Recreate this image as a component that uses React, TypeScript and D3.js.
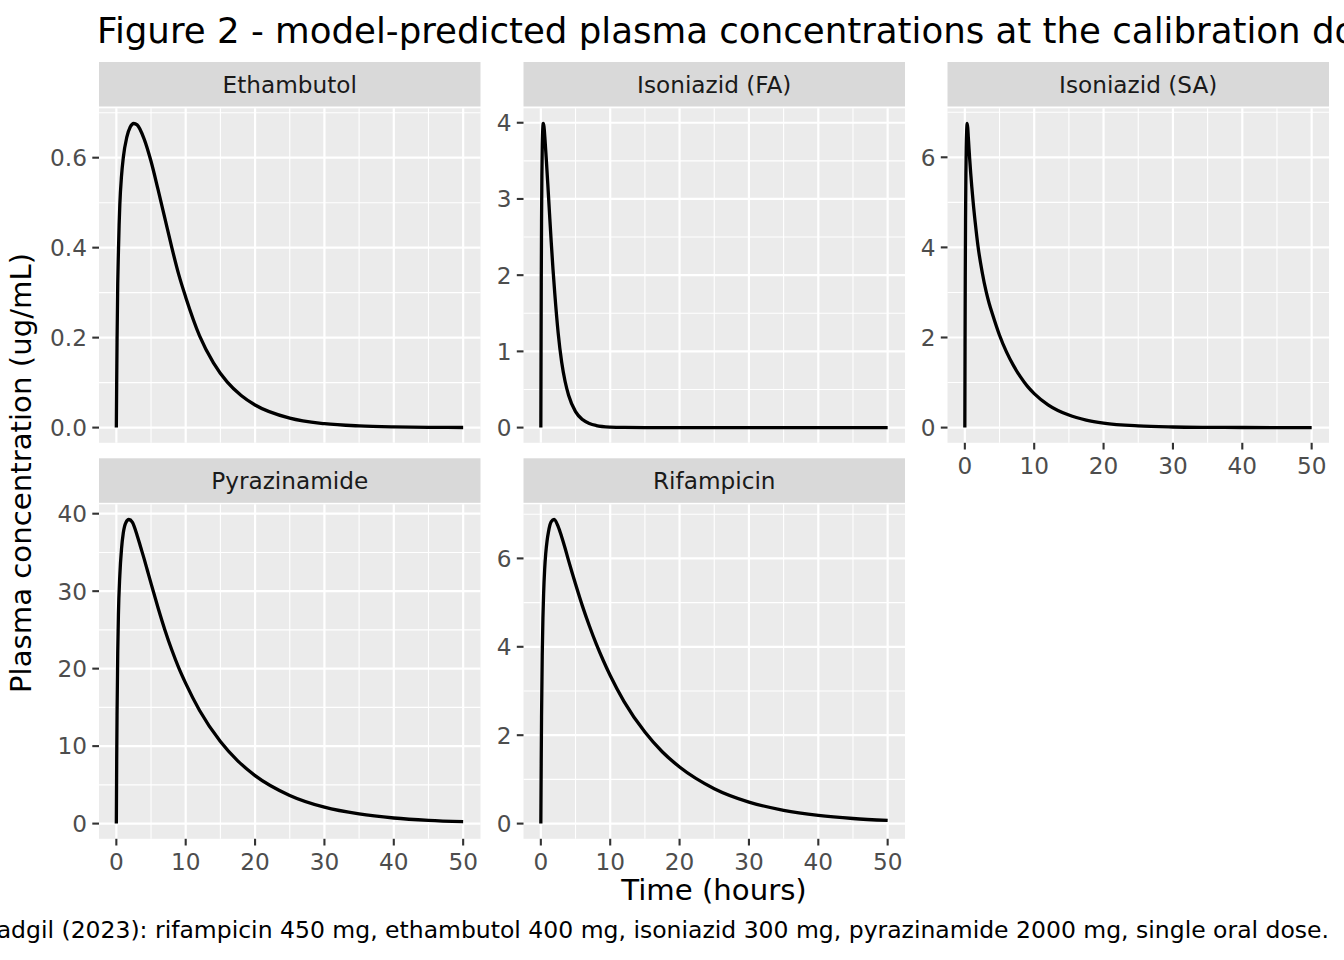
import React from "react";
import * as d3 from "d3";

// values (time in hours, concentration in ug/mL)
const drugNames = ["Ethambutol", "Isoniazid (FA)", "Isoniazid (SA)", "Pyrazinamide", "Rifampicin"];

const ethambutolTime = [0, 0.05, 0.1, 0.2, 0.3, 0.4, 0.5, 0.75, 1, 1.5, 2, 2.5, 3, 4, 5, 6, 7, 8, 9, 10, 12, 14, 16, 18, 20, 25, 30, 35, 40, 45, 50];
const ethambutolConc = [0, 0.1, 0.19, 0.32, 0.39, 0.45, 0.495, 0.56, 0.6, 0.645, 0.668, 0.676, 0.673, 0.642, 0.592, 0.53, 0.465, 0.4, 0.34, 0.29, 0.204, 0.144, 0.101, 0.0714, 0.0503, 0.021, 0.0088, 0.0037, 0.0015, 0.0006, 0.00026];

const isoFaTime = [0, 0.03, 0.06, 0.1, 0.15, 0.2, 0.27, 0.35, 0.45, 0.6, 0.8, 1, 1.25, 1.5, 1.75, 2, 2.5, 3, 3.5, 4, 5, 6, 7, 8, 10, 12, 15, 20, 30, 40, 50];
const isoFaConc = [0, 1.0, 1.9, 2.7, 3.3, 3.65, 3.9, 3.99, 3.95, 3.78, 3.5, 3.2, 2.81, 2.43, 2.08, 1.77, 1.24, 0.86, 0.605, 0.425, 0.21, 0.105, 0.053, 0.027, 0.007, 0.0018, 0.0002, 0, 0, 0, 0];

const isoSaTime = [0, 0.03, 0.06, 0.1, 0.15, 0.2, 0.27, 0.34, 0.42, 0.5, 0.6, 0.7, 0.85, 1, 1.2, 1.5, 1.92, 2.5, 3.1, 3.5, 4, 5, 6, 7, 8, 9, 10, 12, 15, 17.5, 20, 25, 30, 35, 40, 45, 50];
const isoSaConc = [0, 1.8, 3.3, 4.6, 5.6, 6.2, 6.6, 6.75, 6.65, 6.45, 6.2, 5.96, 5.64, 5.35, 5.0, 4.55, 4.0, 3.45, 3.0, 2.76, 2.51, 2.05, 1.68, 1.38, 1.13, 0.92, 0.755, 0.506, 0.278, 0.168, 0.1, 0.037, 0.0135, 0.005, 0.0018, 0.0007, 0.00025];

const pyrazinamideTime = [0, 0.05, 0.1, 0.2, 0.3, 0.5, 0.75, 1, 1.4, 1.8, 2.3, 3, 3.5, 4, 4.5, 5, 6, 7, 8, 9, 10, 12, 15, 17.5, 20, 25, 30, 35, 40, 45, 50];
const pyrazinamideConc = [0, 8, 14, 22, 27, 32, 35.5, 37.5, 38.9, 39.25, 38.9, 37.2, 35.7, 34.2, 32.6, 31.0, 27.9, 25.0, 22.4, 20.1, 18.1, 14.6, 10.6, 8.1, 6.2, 3.64, 2.12, 1.24, 0.72, 0.42, 0.25];

const rifampicinTime = [0, 0.05, 0.1, 0.2, 0.3, 0.4, 0.55, 0.7, 0.9, 1.1, 1.3, 1.5, 1.92, 2.5, 3, 3.5, 4, 4.5, 5, 6, 7, 8, 9, 10, 12, 15, 17.5, 20, 25, 30, 35, 40, 45, 50];
const rifampicinConc = [0, 1.3, 2.4, 3.8, 4.65, 5.2, 5.75, 6.1, 6.4, 6.6, 6.75, 6.83, 6.88, 6.72, 6.49, 6.23, 5.95, 5.68, 5.42, 4.92, 4.47, 4.06, 3.69, 3.35, 2.76, 2.07, 1.625, 1.28, 0.79, 0.487, 0.301, 0.186, 0.115, 0.071];

// y tick labels per panel
const ethambutolTicks = [0, 0.2, 0.4, 0.6];
const isoFaTicks = [0, 1, 2, 3, 4];
const isoSaTicks = [0, 2, 4, 6];
const pyrazinamideTicks = [0, 10, 20, 30, 40];
const rifampicinTicks = [0, 2, 4, 6];
const timeTicks = [0, 10, 20, 30, 40, 50];

const series = [
	{ name: drugNames[0], time: ethambutolTime, conc: ethambutolConc, ticks: ethambutolTicks, fmt: ".1f", row: 0, col: 0, xAxis: false },
	{ name: drugNames[1], time: isoFaTime, conc: isoFaConc, ticks: isoFaTicks, fmt: "d", row: 0, col: 1, xAxis: false },
	{ name: drugNames[2], time: isoSaTime, conc: isoSaConc, ticks: isoSaTicks, fmt: "d", row: 0, col: 2, xAxis: true },
	{ name: drugNames[3], time: pyrazinamideTime, conc: pyrazinamideConc, ticks: pyrazinamideTicks, fmt: "d", row: 1, col: 0, xAxis: true },
	{ name: drugNames[4], time: rifampicinTime, conc: rifampicinConc, ticks: rifampicinTicks, fmt: "d", row: 1, col: 1, xAxis: true },
];

const W = 1344;
const H = 960;
const colX = [99, 523.5, 947.5];
const panelW = 381.5;
const stripTop = [62, 458.3];
const stripH = 44.5;
const panelTop = [108.3, 504.3];
const panelH = 334.5;

const FONT = "DejaVu Sans, sans-serif";
const SMALL_FS = 23.2; // ticks, strips
const CAPTION_FS = 23.5;
const AXIS_FS = 29.2;
const TITLE_FS = 35.6;

// ggplot-like expansion of 5% on each side
function expand(lo: number, hi: number): [number, number] {
	const pad = (hi - lo) * 0.05;
	return [lo - pad, hi + pad];
}

// minor breaks halfway between majors, extended one step beyond when inside the limits
function minorBreaks(major: number[], domain: [number, number]) {
	const step = major[1] - major[0];
	const out: number[] = [];
	for (let v = major[0] - step / 2; v <= major[major.length - 1] + step / 2 + 1e-9; v += step) {
		if (v >= domain[0] && v <= domain[1]) out.push(v);
	}
	return out;
}

function Panel({ s }: { s: (typeof series)[number] }) {
	const x0 = colX[s.col];
	const y0 = panelTop[s.row];
	const xDomain = expand(0, 50);
	const x = d3.scaleLinear().domain(xDomain).range([x0, x0 + panelW]);
	const yDomain = expand(0, d3.max(s.conc) as number);
	const y = d3.scaleLinear().domain(yDomain).range([y0 + panelH, y0]);
	const xMinor = minorBreaks(timeTicks, xDomain);
	const yMinor = minorBreaks(s.ticks, yDomain);
	const pts = s.time.map((t, i) => [t, s.conc[i]] as [number, number]);
	const line = d3
		.line<[number, number]>()
		.x((d) => x(d[0]))
		.y((d) => y(d[1]))
		.curve(d3.curveMonotoneX);
	const fmt = d3.format(s.fmt);
	const sTop = stripTop[s.row];

	return (
		<g>
			{/* strip */}
			<rect x={x0} y={sTop} width={panelW} height={stripH} fill="#D9D9D9" />
			<text x={x0 + panelW / 2} y={sTop + 30.7} textAnchor="middle" fontSize={SMALL_FS} fill="#1A1A1A" fontFamily={FONT}>
				{s.name}
			</text>

			{/* panel background + grid */}
			<rect x={x0} y={y0} width={panelW} height={panelH} fill="#EBEBEB" />
			{yMinor.map((v) => (
				<line key={"ym" + v} x1={x0} x2={x0 + panelW} y1={y(v)} y2={y(v)} stroke="#fff" strokeWidth={1.1} />
			))}
			{xMinor.map((v) => (
				<line key={"xm" + v} x1={x(v)} x2={x(v)} y1={y0} y2={y0 + panelH} stroke="#fff" strokeWidth={1.1} />
			))}
			{s.ticks.map((v) => (
				<line key={"yM" + v} x1={x0} x2={x0 + panelW} y1={y(v)} y2={y(v)} stroke="#fff" strokeWidth={2.2} />
			))}
			{timeTicks.map((v) => (
				<line key={"xM" + v} x1={x(v)} x2={x(v)} y1={y0} y2={y0 + panelH} stroke="#fff" strokeWidth={2.2} />
			))}

			{/* curve */}
			<path d={line(pts) ?? ""} fill="none" stroke="#000" strokeWidth={3.3} strokeLinejoin="round" />

			{/* y axis */}
			{s.ticks.map((v) => (
				<g key={"yt" + v}>
					<line x1={x0 - 6.7} x2={x0} y1={y(v)} y2={y(v)} stroke="#333333" strokeWidth={2.1} />
					<text x={x0 - 12} y={y(v) + SMALL_FS * 0.36} textAnchor="end" fontSize={SMALL_FS} fill="#4D4D4D" fontFamily={FONT}>
						{fmt(v)}
					</text>
				</g>
			))}

			{/* x axis */}
			{s.xAxis &&
				timeTicks.map((v) => (
					<g key={"xt" + v}>
						<line x1={x(v)} x2={x(v)} y1={y0 + panelH} y2={y0 + panelH + 6.7} stroke="#333333" strokeWidth={2.1} />
						<text x={x(v)} y={y0 + panelH + 30.8} textAnchor="middle" fontSize={SMALL_FS} fill="#4D4D4D" fontFamily={FONT}>
							{v}
						</text>
					</g>
				))}
		</g>
	);
}

export default function App() {
	return (
		<svg width={W} height={H} viewBox={`0 0 ${W} ${H}`} style={{ position: "absolute", left: 0, top: 0, background: "#fff" }}>
			<rect width={W} height={H} fill="#fff" />
			<text x={97} y={42.5} fontSize={TITLE_FS} fill="#000" fontFamily={FONT}>
				Figure 2 - model-predicted plasma concentrations at the calibration doses
			</text>

			{series.map((s) => (
				<Panel key={s.name} s={s} />
			))}

			<text x={714} y={900} textAnchor="middle" fontSize={AXIS_FS} fill="#000" fontFamily={FONT}>
				Time (hours)
			</text>
			<text transform="translate(31,473) rotate(-90)" textAnchor="middle" fontSize={AXIS_FS} fill="#000" fontFamily={FONT}>
				Plasma concentration (ug/mL)
			</text>

			<text x={1329} y={938} textAnchor="end" fontSize={CAPTION_FS} fill="#000" fontFamily={FONT}>
				Calibration doses from Gadgil (2023): rifampicin 450 mg, ethambutol 400 mg, isoniazid 300 mg, pyrazinamide 2000 mg, single oral dose.
			</text>
		</svg>
	);
}
